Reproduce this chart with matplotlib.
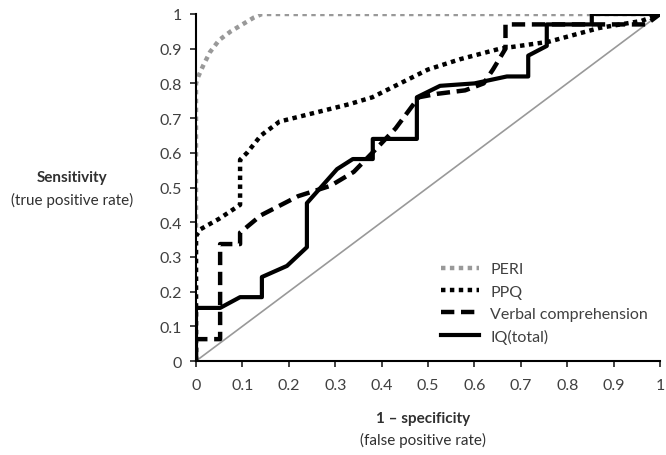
import matplotlib
matplotlib.use("Agg")
import matplotlib.pyplot as plt

# ---- data ----
peri_x = [0.0, 0.0, 0.005, 0.015, 0.03, 0.05, 0.075, 0.10, 0.125, 0.142, 1.0]
peri_y = [0.0, 0.80, 0.82, 0.85, 0.89, 0.925, 0.95, 0.97, 0.99, 1.0, 1.0]

ppq_x = [0.0, 0.0, 0.01, 0.05, 0.095, 0.095, 0.11, 0.14, 0.18, 0.21, 0.27, 0.33, 0.38, 0.44, 0.50, 0.57, 0.655, 0.76, 0.87, 0.96, 1.0]
ppq_y = [0.0, 0.36, 0.38, 0.41, 0.45, 0.58, 0.60, 0.65, 0.69, 0.70, 0.72, 0.74, 0.76, 0.80, 0.84, 0.87, 0.90, 0.92, 0.96, 0.98, 1.0]

verb_x = [0.0, 0.0, 0.052, 0.052, 0.095, 0.095, 0.14, 0.22, 0.29, 0.34, 0.38, 0.43, 0.48, 0.52, 0.58, 0.62, 0.64, 0.667, 0.667, 0.97, 1.0]
verb_y = [0.0, 0.063, 0.063, 0.337, 0.337, 0.37, 0.42, 0.475, 0.505, 0.545, 0.60, 0.67, 0.76, 0.77, 0.78, 0.80, 0.84, 0.90, 0.97, 0.97, 1.0]

iq_x = [0.0, 0.0, 0.052, 0.095, 0.142, 0.142, 0.196, 0.239, 0.239, 0.304, 0.338, 0.381, 0.381, 0.476, 0.476, 0.526, 0.60, 0.67, 0.716, 0.716, 0.756, 0.756, 0.853, 0.853, 1.0]
iq_y = [0.0, 0.153, 0.153, 0.184, 0.184, 0.242, 0.274, 0.328, 0.455, 0.553, 0.582, 0.582, 0.64, 0.64, 0.76, 0.793, 0.80, 0.82, 0.82, 0.88, 0.908, 0.97, 0.97, 1.0, 1.0]

ref_x = [0, 1]
ref_y = [0, 1]

series_labels = ["PERI", "PPQ", "Verbal comprehension", "IQ(total)"]
ticks = [0, 0.1, 0.2, 0.3, 0.4, 0.5, 0.6, 0.7, 0.8, 0.9, 1]
tick_labels = ["0", "0.1", "0.2", "0.3", "0.4", "0.5", "0.6", "0.7", "0.8", "0.9", "1"]

plt.rcParams['font.family'] = ['Lato', 'DejaVu Sans']

fig = plt.figure(figsize=(6.66, 4.56), dpi=100)
ax = fig.add_axes([196/666, 1-362/456, 464/666, 347/456])

ax.plot(ref_x, ref_y, color="#999999", lw=1.2, zorder=1)
ax.plot(peri_x, peri_y, color="#999999", lw=3.2, linestyle=(0, (1, 1)), dash_capstyle="butt", label=series_labels[0], zorder=2)
ax.plot(ppq_x, ppq_y, color="black", lw=3.2, linestyle=(0, (1, 1)), dash_capstyle="butt", label=series_labels[1], zorder=3)
ax.plot(verb_x, verb_y, color="black", lw=3.2, linestyle=(0, (3, 1.5)), dash_capstyle="butt", label=series_labels[2], zorder=4)
ax.plot(iq_x, iq_y, color="black", lw=3.0, linestyle="-", label=series_labels[3], zorder=5)

ax.set_xlim(0, 1)
ax.set_ylim(0, 1)
ax.set_xticks(ticks)
ax.set_xticklabels(tick_labels)
ax.set_yticks(ticks)
ax.set_yticklabels(tick_labels)
for s in ["top", "right"]:
    ax.spines[s].set_visible(False)
for s in ["left", "bottom"]:
    ax.spines[s].set_linewidth(1.5)
    ax.spines[s].set_color("black")
ax.tick_params(axis="both", direction="out", length=4, width=1.3, labelsize=11.5, colors="#333333")
ax.tick_params(axis="x", pad=8)
ax.tick_params(axis="y", pad=6)
for t in ax.get_xticklabels() + ax.get_yticklabels():
    t.set_color("#404040")

leg = ax.legend(loc="lower right", bbox_to_anchor=(1.005, 0.008), frameon=False, fontsize=11.5,
                handlelength=2.4, handletextpad=0.7, labelspacing=0.5)
for t in leg.get_texts():
    t.set_color("#404040")

fig.text(72/666, 1-178/456, "Sensitivity", ha="center", va="center", fontsize=11, fontweight="bold", color="#303030")
fig.text(72/666, 1-200/456, "(true positive rate)", ha="center", va="center", fontsize=11, color="#303030")
fig.text(423/666, 1-419/456, "1 \u2013 specificity", ha="center", va="center", fontsize=11, fontweight="bold", color="#303030")
fig.text(423/666, 1-440/456, "(false positive rate)", ha="center", va="center", fontsize=11, color="#303030")

fig.savefig("out.png", dpi=100)
